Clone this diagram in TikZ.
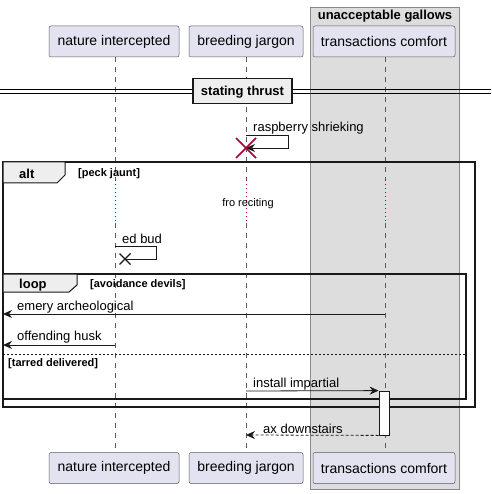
\documentclass[tikz,border=0pt]{standalone}
\usepackage{fontspec}
\setmainfont{Liberation Sans}
\usetikzlibrary{arrows.meta}
\definecolor{partfill}{HTML}{E2E2F0}
\definecolor{partline}{HTML}{5A5A5A}
\definecolor{grpfill}{HTML}{DDDDDD}
\definecolor{grpline}{HTML}{888888}
\definecolor{tabfill}{HTML}{EEEEEE}
\definecolor{destroyred}{HTML}{A80036}
\tikzset{
  part/.style={draw=partline, fill=partfill, line width=0.5pt, rounded corners=2pt,
    minimum height=31pt, inner sep=0pt, font=\fontsize{14pt}{16pt}\selectfont},
  lifeline/.style={draw=partline, line width=0.6pt, dash pattern=on 5pt off 5pt},
  delayline/.style={draw=destroyred, line width=1pt, dash pattern=on 1pt off 3pt},
  msg/.style={draw=black!90, line width=0.8pt},
  tip/.style={-{Stealth[length=9pt,width=8pt,inset=3pt]}},
  lbl/.style={inner sep=0pt, anchor=west, font=\fontsize{13pt}{15pt}\selectfont},
  guard/.style={inner sep=0pt, anchor=west, font=\bfseries\fontsize{11pt}{13pt}\selectfont},
  frame/.style={draw=black!90, line width=1.5pt},
  tabshape/.style={draw=black!90, fill=tabfill, line width=1pt},
}
\begin{document}
\begin{tikzpicture}[x=1pt,y=-1pt]
\useasboundingbox (0,0) rectangle (491,494);
% group box
\draw[draw=grpline, fill=grpfill, line width=0.8pt] (310,7) rectangle (459,489);
\node[inner sep=0pt, font=\bfseries\fontsize{13pt}{15pt}\selectfont] (grp) at (385,16.5) {unacceptable gallows};

% lifelines
\foreach \x in {115,246,385} {
  \draw[lifeline] (\x,57) -- (\x,180);
  \draw[delayline] (\x,180) -- (\x,223);
  \draw[lifeline] (\x,223) -- (\x,452);
}

% participants
\node[part, minimum width=130pt] (n1) at (114,41.5) {nature intercepted};
\node[part, minimum width=114pt] (n2) at (246,41.5) {breeding jargon};
\node[part, minimum width=142pt] (n3) at (384,41.5) {transactions comfort};
\node[part, minimum width=130pt] (m1) at (114,468) {nature intercepted};
\node[part, minimum width=114pt] (m2) at (246,468) {breeding jargon};
\node[part, minimum width=142pt] (m3) at (384,468) {transactions comfort};

% divider
\draw[line width=0.9pt] (0,89.5) -- (491,89.5);
\draw[line width=0.9pt] (0,93.5) -- (491,93.5);
\node[draw=black!90, fill=tabfill, line width=1.5pt, minimum width=99pt, minimum height=25pt,
  inner sep=0pt] (div) at (242.5,91) {};
\node[inner sep=0pt, font=\bfseries\fontsize{13pt}{15pt}\selectfont] (divt) at (242.5,92.5) {stating thrust};

% raspberry shrieking
\coordinate (r1) at (246,135);
\coordinate (r2) at (288,135);
\coordinate (r3) at (288,148);
\coordinate (r4) at (246,148);
\draw[msg, tip] (r1) -- (r2) -- (r3) -- (r4);
\node[lbl] (rlab) at (253,128.5) {raspberry shrieking};
\draw[draw=destroyred, line width=1.5pt] ([shift={(-10,-10)}]r4) -- ([shift={(10,10)}]r4)
  ([shift={(-10,10)}]r4) -- ([shift={(10,-10)}]r4);

% alt frame
\draw[frame] (3,162) rectangle (475,407);
\draw[tabshape] (3,162) -- (65,162) -- (65,175) -- (57,183) -- (3,183) -- cycle;
\node[inner sep=0pt, anchor=west, font=\bfseries\fontsize{13pt}{15pt}\selectfont] (alt) at (19,174) {alt};
\node[guard] (g1) at (78,174) {[peck jaunt]};

% delay text
\node[inner sep=0pt, font=\fontsize{11pt}{13pt}\selectfont] (delay) at (248,204) {fro reciting};

% ed bud
\coordinate (e1) at (115,246);
\coordinate (e2) at (156,246);
\coordinate (e3) at (156,259);
\coordinate (e4) at (125,259);
\draw[msg] (e1) -- (e2) -- (e3) -- (e4);
\node[lbl] (elab) at (122,238.5) {ed bud};
\draw[black!90, line width=1.3pt] ([shift={(-5.5,-5.5)}]e4) -- ([shift={(5.5,5.5)}]e4)
  ([shift={(-5.5,5.5)}]e4) -- ([shift={(5.5,-5.5)}]e4);

% loop frame
\draw[frame] (3,274) rectangle (466,399);
\draw[tabshape] (3,274) -- (77,274) -- (77,285) -- (69,292) -- (3,292) -- cycle;
\node[inner sep=0pt, anchor=west, font=\bfseries\fontsize{13pt}{15pt}\selectfont] (loop) at (19,285) {loop};
\node[guard] (g2) at (90,285) {[avoidance devils]};

% emery archeological
\coordinate (a1) at (385,314);
\coordinate (a2) at (3,314);
\draw[msg, tip] (a1) -- (a2);
\node[lbl] (alab) at (17,307) {emery archeological};

% offending husk
\coordinate (o1) at (115,345);
\coordinate (o2) at (3,345);
\draw[msg, tip] (o1) -- (o2);
\node[lbl] (olab) at (17,337.5) {offending husk};

% else separator
\draw[black!90, line width=0.6pt, dash pattern=on 2pt off 2pt] (3,354.5) -- (466,354.5);
\node[guard] (g3) at (8,363.5) {[tarred delivered]};

% activation
\node[draw=black!90, fill=white, line width=0.8pt, minimum width=10pt, minimum height=44pt,
  inner sep=0pt] (act) at (384,413) {};

% install impartial
\coordinate (i1) at (246,391);
\draw[msg, tip] (i1) -- (act.north west);
\node[lbl] (ilab) at (253,384) {install impartial};

% ax downstairs
\coordinate (d2) at (246,435);
\draw[msg, tip, dash pattern=on 3pt off 2pt] (act.south west) -- (d2);
\node[lbl] (dlab) at (263,428.5) {ax downstairs};
\end{tikzpicture}
\end{document}
